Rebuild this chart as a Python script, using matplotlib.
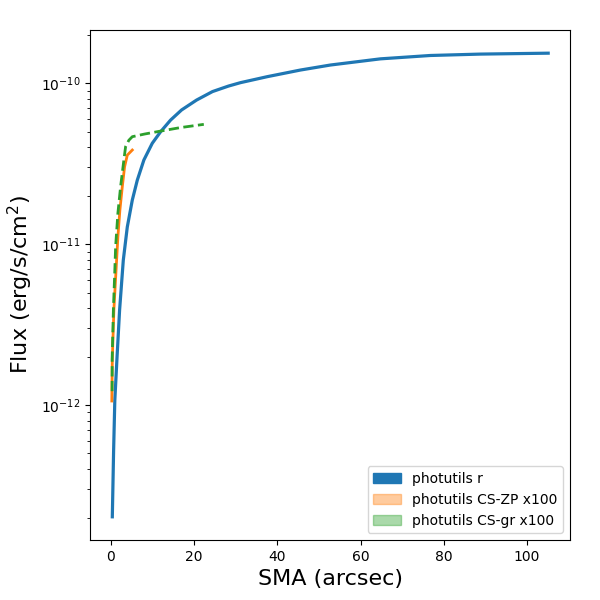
import numpy as np
import matplotlib
matplotlib.use("Agg")
import matplotlib.pyplot as plt
from matplotlib.patches import Patch

# photutils r profile
sma_r = [0.34, 0.65, 0.94, 1.44, 2.09, 2.98, 3.94, 5.14, 6.34, 7.93, 9.94,
         11.94, 14.34, 16.98, 20.58, 24.42, 28.27, 31.15, 37.56, 45.56,
         52.77, 64.77, 76.78, 88.79, 105.1]
flux_r = [2.02e-13, 5.2e-13, 1.07e-12, 1.91e-12, 3.9e-12, 7.96e-12, 1.28e-11,
          1.88e-11, 2.50e-11, 3.34e-11, 4.24e-11, 5.00e-11, 5.91e-11, 6.83e-11,
          7.87e-11, 8.89e-11, 9.62e-11, 1.01e-10, 1.10e-10, 1.21e-10,
          1.30e-10, 1.42e-10, 1.49e-10, 1.52e-10, 1.54e-10]

# CS-ZP x100
sma_zp = [0.22, 0.34, 0.72, 1.25, 1.68, 2.16, 2.74, 3.29, 3.94, 5.14]
flux_zp = [1.06e-12, 1.93e-12, 3.94e-12, 7.0e-12, 1.11e-11, 1.63e-11,
           2.28e-11, 3.03e-11, 3.58e-11, 3.85e-11]

# CS-gr x100
sma_gr = [0.29, 0.3, 0.6, 0.95, 1.13, 1.68, 2.33, 3.12, 3.53, 4.32, 5.14,
          8.09, 11.94, 16.74, 22.33]
flux_gr = [1.22e-12, 1.93e-12, 3.94e-12, 7.0e-12, 9.64e-12, 1.56e-11,
           2.28e-11, 3.34e-11, 4.04e-11, 4.43e-11, 4.66e-11, 4.84e-11,
           5.05e-11, 5.31e-11, 5.56e-11]

fig = plt.figure(figsize=(6, 6), dpi=100)
ax = fig.add_axes([0.15, 0.1, 0.8, 0.85])

ax.plot(sma_r, flux_r, color='C0', lw=2.3)
ax.plot(sma_zp, flux_zp, color='C1', lw=2)
ax.plot(sma_gr, flux_gr, color='C2', lw=2, ls='--')
ax.set_yscale('log')

ax.set_xlabel('SMA (arcsec)', fontsize=16)
ax.set_ylabel('Flux (erg/s/cm$^2$)', fontsize=16)

handles = [Patch(color='C0', label='photutils r'),
           Patch(color='C1', alpha=0.4, label='photutils CS-ZP x100'),
           Patch(color='C2', alpha=0.4, label='photutils CS-gr x100')]
ax.legend(handles=handles, loc='lower right')

fig.savefig('out.png')
